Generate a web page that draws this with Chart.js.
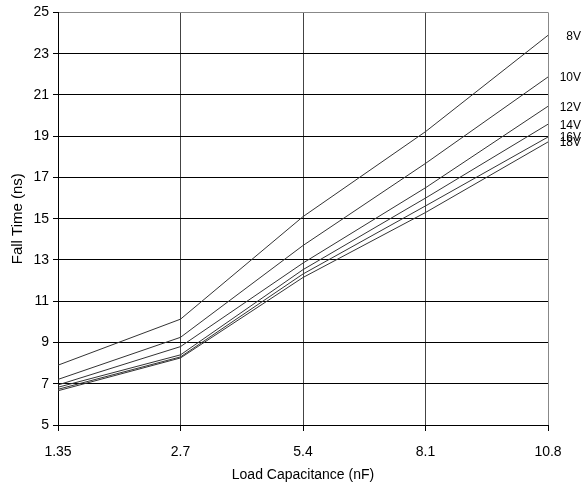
<!DOCTYPE html>
<html>
<head>
<meta charset="utf-8">
<script src="https://cdn.jsdelivr.net/npm/chart.js@4"></script>
<style>
  html, body { margin: 0; padding: 0; background: #fff; }
  canvas { display: block; }
</style>
</head>
<body>
<canvas id="fallChart" width="582" height="494"></canvas>
<script>
// Load capacitance categories (nF)
const capacitance = ['1.35', '2.7', '5.4', '8.1', '10.8'];

// Fall time (ns) per supply voltage
const v8  = [7.90, 10.13, 15.10, 19.22, 23.89];
const v10 = [7.21, 9.25, 13.70, 17.68, 21.87];
const v12 = [6.94, 8.80, 12.85, 16.50, 20.45];
const v14 = [6.83, 8.40, 12.53, 16.00, 19.58];
const v16 = [6.73, 8.30, 12.32, 15.62, 18.96];
const v18 = [6.66, 8.25, 12.15, 15.30, 18.72];

const seriesNames = ['8V', '10V', '12V', '14V', '16V', '18V'];
const seriesData = [v8, v10, v12, v14, v16, v18];

const yTicks = [5, 7, 9, 11, 13, 15, 17, 19, 21, 23, 25];

const FONT = "'Liberation Sans', Arial, sans-serif";
Chart.defaults.font.family = FONT;
Chart.defaults.color = '#000';

// Names drawn just right of each line's last point
const endLabels = {
    id: 'endLabels',
    afterDatasetsDraw(chart) {
        const ctx = chart.ctx;
        const y = chart.scales.y;
        ctx.save();
        ctx.font = '12px ' + FONT;
        ctx.fillStyle = '#000';
        ctx.textAlign = 'right';
        ctx.textBaseline = 'middle';
        chart.data.datasets.forEach(ds => {
            const last = ds.data[ds.data.length - 1];
            ctx.fillText(ds.label, 581, y.getPixelForValue(last) + 1);
        });
        ctx.restore();
    }
};

new Chart(document.getElementById('fallChart'), {
    type: 'line',
    data: {
        labels: capacitance,
        datasets: seriesNames.map((name, i) => ({
            label: name,
            data: seriesData[i],
            borderColor: '#333',
            borderWidth: 1,
            pointRadius: 0,
            tension: 0,
            fill: false
        }))
    },
    options: {
        responsive: false,
        animation: false,
        devicePixelRatio: 1,
        layout: { padding: { top: 12, right: 34, left: 0, bottom: 0 } },
        plugins: {
            legend: { display: false },
            tooltip: { enabled: false }
        },
        scales: {
            x: {
                type: 'category',
                offset: false,
                grid: {
                    color: ctx => ctx.index === capacitance.length - 1 ? '#888' : '#444',
                    tickLength: 6,
                    tickColor: '#000'
                },
                border: { color: '#000' },
                ticks: { font: { size: 14 }, padding: 13, maxRotation: 0, autoSkip: false },
                title: {
                    display: true,
                    text: 'Load Capacitance (nF)',
                    font: { size: 14 },
                    padding: { top: 0, bottom: 10 }
                },
                afterFit: s => { s.height = 69; }
            },
            y: {
                min: 5,
                max: 25,
                afterBuildTicks: s => { s.ticks = yTicks.map(v => ({ value: v })); },
                grid: {
                    color: ctx => ctx.tick && ctx.tick.value === 25 ? '#888' : '#000',
                    tickLength: 5,
                    tickColor: '#000'
                },
                border: { color: '#000' },
                ticks: { font: { size: 14 }, padding: 4, autoSkip: false },
                title: {
                    display: true,
                    text: 'Fall Time (ns)',
                    font: { size: 15 },
                    padding: { top: 9, bottom: 0 }
                },
                afterFit: s => { s.width = 58; }
            }
        }
    },
    plugins: [endLabels]
});
</script>
</body>
</html>
